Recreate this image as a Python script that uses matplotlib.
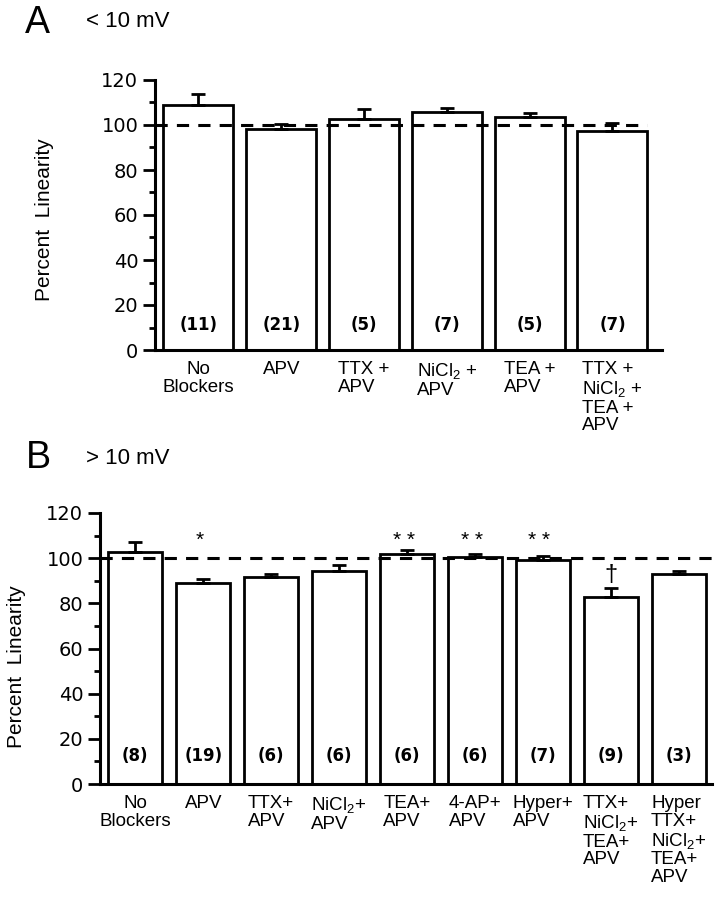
import matplotlib
matplotlib.use("Agg")
import numpy as np
import matplotlib.pyplot as plt
from matplotlib.ticker import MultipleLocator

plt.rcParams["font.family"] = ["Liberation Sans", "DejaVu Sans"]
plt.rcParams["mathtext.fontset"] = "custom"
plt.rcParams["mathtext.rm"] = "Liberation Sans"
plt.rcParams["mathtext.default"] = "regular"

# --- Panel A: < 10 mV ---
LABELS_A = ["No\nBlockers", "APV", "TTX +\nAPV", "NiCl$_2$ +\nAPV",
            "TEA +\nAPV", "TTX +\nNiCl$_2$ +\nTEA +\nAPV"]
MEANS_A = [108.9, 98.2, 102.8, 105.9, 103.7, 97.3]
SEM_A = [4.9, 2.2, 4.4, 1.8, 1.5, 3.4]
N_A = [11, 21, 5, 7, 5, 7]

# --- Panel B: > 10 mV ---
LABELS_B = ["No\nBlockers", "APV", "TTX+\nAPV", "NiCl$_2$+\nAPV", "TEA+\nAPV",
            "4-AP+\nAPV", "Hyper+\nAPV", "TTX+\nNiCl$_2$+\nTEA+\nAPV",
            "Hyper\nTTX+\nNiCl$_2$+\nTEA+\nAPV"]
MEANS_B = [102.8, 89.2, 91.7, 94.2, 101.8, 100.3, 99.1, 82.9, 92.8]
SEM_B = [4.5, 1.7, 1.5, 2.7, 1.7, 1.5, 1.9, 3.7, 1.6]
N_B = [8, 19, 6, 6, 6, 6, 7, 9, 3]
SIG_B = ["", "*", "", "", "* *", "* *", "* *", "\u2020", ""]

REF = 100
LW = 2.0


def draw_panel(ax, labels, means, sem, ns, width, xlim, line_end, n_y):
    x = np.arange(len(means))
    ax.bar(x, means, width=width, color="white", edgecolor="black",
           linewidth=LW, zorder=2)
    ax.errorbar(x, means, yerr=[np.zeros(len(sem)), sem], fmt="none",
                ecolor="black", elinewidth=LW, capsize=5, capthick=LW, zorder=3)
    ax.hlines(REF, xlim[0], line_end, colors="black", linestyles=(0, (4, 3)),
              linewidth=2.2, zorder=4, clip_on=False)
    for xi, n in zip(x, ns):
        ax.text(xi, n_y, f"({n})", ha="center", va="center",
                fontsize=12, fontweight="bold", family="DejaVu Sans", zorder=5)

    ax.set_xlim(*xlim)
    ax.set_ylim(0, 120)
    ax.yaxis.set_major_locator(MultipleLocator(20))
    ax.yaxis.set_minor_locator(MultipleLocator(10))
    ax.set_xticks(x, labels)
    for i, t in enumerate(ax.get_xticklabels()):
        t.set_fontsize(13.5)
        t.set_linespacing(1.05)
        t.set_multialignment("center" if i == 0 else "left")
    ax.tick_params(axis="x", length=0, pad=8)
    ax.tick_params(axis="y", which="major", length=9, width=2, pad=3,
                   labelsize=14)
    ax.tick_params(axis="y", which="minor", length=4.5, width=2)
    for t in ax.get_yticklabels():
        t.set_family("DejaVu Sans")
    for s in ["top", "right"]:
        ax.spines[s].set_visible(False)
    for s in ["left", "bottom"]:
        ax.spines[s].set_linewidth(2.2)


fig = plt.figure(figsize=(7.16, 9), dpi=100)
W, H = 716, 900

axA = fig.add_axes([155 / W, 1 - 350 / H, 507 / W, 270 / H])
draw_panel(axA, LABELS_A, MEANS_A, SEM_A, N_A, width=0.845,
           xlim=(-0.525, 5.598), line_end=5.42, n_y=11)

axB = fig.add_axes([100 / W, 1 - 784 / H, 612 / W, 271 / H])
draw_panel(axB, LABELS_B, MEANS_B, SEM_B, N_B, width=0.80,
           xlim=(-0.52, 8.49), line_end=8.55, n_y=12.5)

# significance marks in B
for i, mark in enumerate(SIG_B):
    if not mark:
        continue
    if mark == "\u2020":
        axB.text(i, MEANS_B[i] + SEM_B[i] + 1.2, mark, ha="center",
                 va="bottom", fontsize=17, zorder=5)
    else:
        axB.text(i - 0.05, 103.5, mark, ha="center", va="bottom",
                 fontsize=15, zorder=5)

# axis titles
fig.text(45 / W, 1 - 220 / H, "Percent  Linearity", rotation=90,
         ha="center", va="center", fontsize=15)
fig.text(17 / W, 1 - 667 / H, "Percent  Linearity", rotation=90,
         ha="center", va="center", fontsize=15)

# panel letters
fig.text(25 / W, 1 - 33 / H, "A", fontsize=27, va="baseline")
fig.text(86 / W, 1 - 27 / H, "< 10 mV", fontsize=16, va="baseline")
fig.text(26 / W, 1 - 468 / H, "B", fontsize=27, va="baseline")
fig.text(86 / W, 1 - 464 / H, "> 10 mV", fontsize=16, va="baseline")

fig.savefig("out.png", dpi=100)
